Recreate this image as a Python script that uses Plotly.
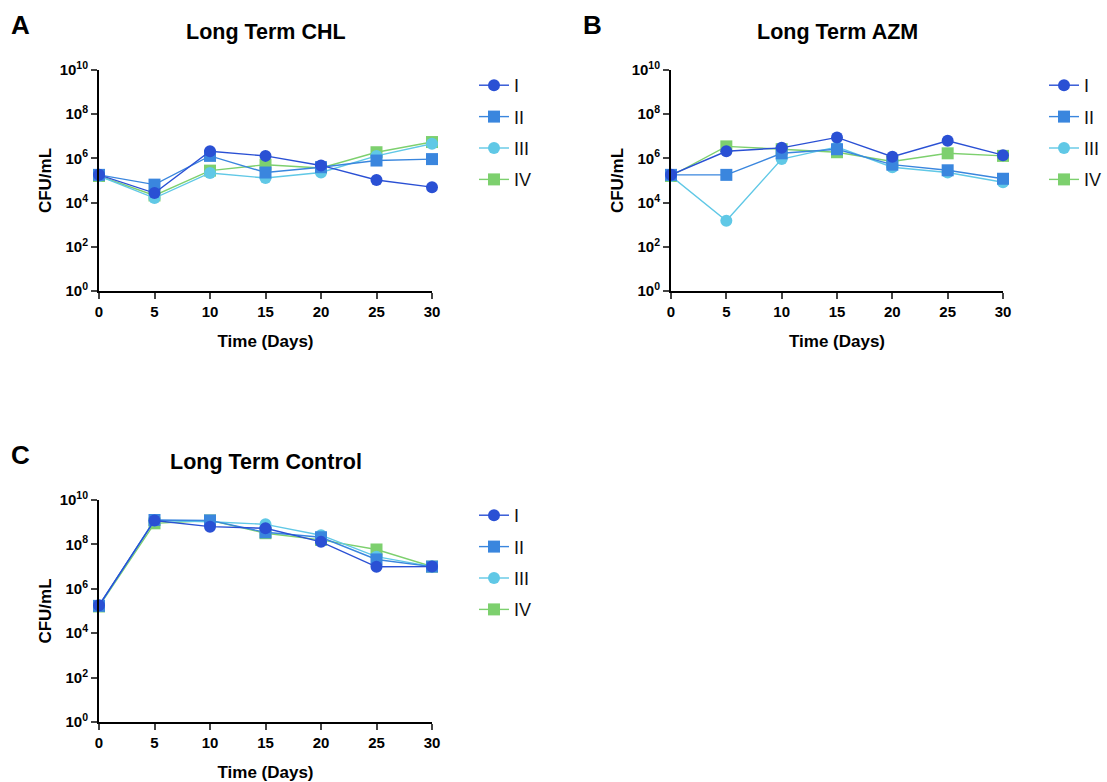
import plotly.graph_objects as go

days = [0, 5, 10, 15, 20, 25, 30]
series_names = ["I", "II", "III", "IV"]

# Panel A: Long Term CHL
chl_I = [1.8e5, 2.7e4, 2.1e6, 1.3e6, 4.8e5, 1.05e5, 5.0e4]
chl_II = [1.8e5, 6.5e4, 1.3e6, 2.3e5, 4.0e5, 8.0e5, 9.3e5]
chl_III = [1.6e5, 1.6e4, 2.2e5, 1.3e5, 2.3e5, 1.3e6, 4.6e6]
chl_IV = [1.6e5, 2.1e4, 2.8e5, 5.2e5, 3.7e5, 1.9e6, 5.5e6]

# Panel B: Long Term AZM
azm_I = [1.8e5, 2.1e6, 3.0e6, 8.9e6, 1.2e6, 6.3e6, 1.4e6]
azm_II = [1.8e5, 1.8e5, 1.7e6, 2.6e6, 5.2e5, 2.9e5, 1.2e5]
azm_III = [1.6e5, 1.5e3, 9.3e5, 3.3e6, 4.0e5, 2.3e5, 8.3e4]
azm_IV = [1.6e5, 3.5e6, 2.6e6, 1.9e6, 7.3e5, 1.7e6, 1.3e6]

# Panel C: Long Term Control
ctl_I = [1.8e5, 1.2e9, 6.3e8, 5.3e8, 1.3e8, 9.8e6, 1.0e7]
ctl_II = [1.7e5, 1.26e9, 1.2e9, 3.5e8, 2.1e8, 2.1e7, 1.0e7]
ctl_III = [1.7e5, 1.2e9, 1.05e9, 8.0e8, 2.6e8, 2.8e7, 1.0e7]
ctl_IV = [1.6e5, 8.9e8, 1.2e9, 3.2e8, 1.6e8, 5.9e7, 1.0e7]

panel_titles = ["Long Term CHL", "Long Term AZM", "Long Term Control"]
panel_letters = ["A", "B", "C"]
ytick_vals = [1, 1e2, 1e4, 1e6, 1e8, 1e10]
ytick_text = ["10<sup>0</sup>", "10<sup>2</sup>", "10<sup>4</sup>", "10<sup>6</sup>",
              "10<sup>8</sup>", "10<sup>10</sup>"]

colors = ["#2a50d4", "#3a86de", "#60c8e6", "#7dd06e"]
symbols = ["circle", "square", "circle", "square"]

W, H = 1107, 782
FONT = "Liberation Sans, Arial, sans-serif"

def px_x(p):
    return p / W

def px_y(p):
    return 1 - p / H

panels = [
    dict(data=[chl_I, chl_II, chl_III, chl_IV], x0=99, x1=432, y0=70, y1=291),
    dict(data=[azm_I, azm_II, azm_III, azm_IV], x0=671, x1=1003, y0=70, y1=291),
    dict(data=[ctl_I, ctl_II, ctl_III, ctl_IV], x0=99, x1=432, y0=500, y1=722),
]
legend_pos = [(474, 67), (1044, 67), (474, 497)]

fig = go.Figure()
layout = dict(
    width=W, height=H, margin=dict(l=0, r=0, t=0, b=0, autoexpand=False),
    paper_bgcolor="white", plot_bgcolor="white",
    font=dict(family=FONT, color="black"),
    annotations=[],
)

for i, p in enumerate(panels):
    n = "" if i == 0 else str(i + 1)
    xa, ya = "x" + n, "y" + n
    leg = "legend" + n
    # draw IV first so series I ends on top, legend order kept I..IV
    for j in reversed(range(4)):
        vals, name = p["data"][j], series_names[j]
        fig.add_trace(go.Scatter(
            x=days, y=vals, name=name, mode="lines+markers",
            xaxis=xa, yaxis=ya, legend=leg, cliponaxis=False,
            legendgroup=panel_letters[i] + name, legendrank=j + 1,
            line=dict(color=colors[j], width=1.4),
            marker=dict(symbol=symbols[j], size=12, color=colors[j]),
        ))
    layout["xaxis" + n] = dict(
        domain=[px_x(p["x0"]), px_x(p["x1"])], anchor=ya, range=[0, 30],
        tickvals=days, ticks="outside", ticklen=6, tickwidth=2,
        showline=True, linewidth=2, linecolor="black", showgrid=False, zeroline=False,
        tickfont=dict(size=15, family=FONT, weight="bold", color="black"),
        title=dict(text="<b>Time (Days)</b>", font=dict(size=17, color="black"), standoff=16),
    )
    layout["yaxis" + n] = dict(
        domain=[px_y(p["y1"]), px_y(p["y0"])], anchor=xa, type="log", range=[0, 10],
        tickvals=ytick_vals, ticktext=ytick_text, ticks="outside", ticklen=6, tickwidth=2,
        showline=True, linewidth=2, linecolor="black", showgrid=False, zeroline=False,
        tickfont=dict(size=15, family=FONT, weight="bold", color="black"),
        title=dict(text="<b>CFU/mL</b>", font=dict(size=17, color="black"), standoff=4),
    )
    lx, ly = legend_pos[i]
    layout[leg] = dict(
        x=px_x(lx), y=px_y(ly), xanchor="left", yanchor="top",
        font=dict(size=18, family=FONT, color="#111111"), tracegroupgap=5,
        traceorder="grouped", bgcolor="rgba(0,0,0,0)", itemwidth=30,
    )
    cx = (p["x0"] + p["x1"]) / 2
    layout["annotations"].append(dict(
        text="<b>" + panel_titles[i] + "</b>", x=px_x(cx), y=px_y(p["y0"] - 38),
        xref="paper", yref="paper", showarrow=False, font=dict(size=21.5, color="black"),
        xanchor="center", yanchor="middle",
    ))
    layout["annotations"].append(dict(
        text="<b>" + panel_letters[i] + "</b>", x=px_x(p["x0"] - 90), y=px_y(p["y0"] - 45),
        xref="paper", yref="paper", showarrow=False, font=dict(size=26, color="black"),
        xanchor="left", yanchor="middle",
    ))

fig.update_layout(**layout)
fig.write_html("out.html", config={"displayModeBar": False},
               post_script="document.body.style.margin='0';")
